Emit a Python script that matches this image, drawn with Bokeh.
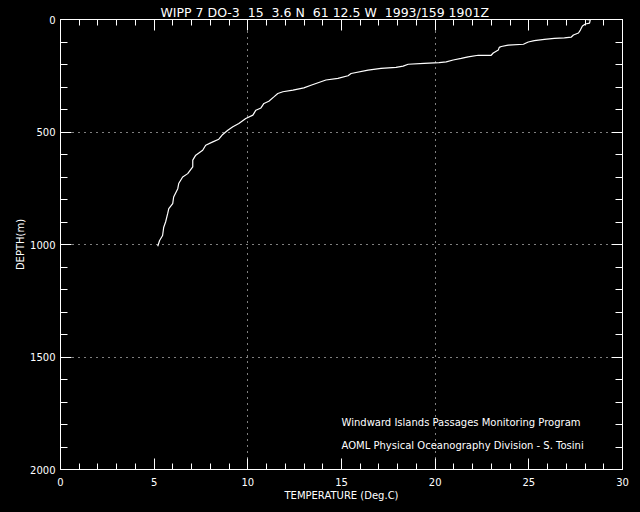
from bokeh.plotting import figure
from bokeh.models import (Range1d, LinearAxis, SingleIntervalTicker, FixedTicker, Label)
from bokeh.embed import file_html
from bokeh.resources import INLINE

# ---- data ----
NB = "\u00a0"
title_text = ("WIPP 7 DO-3" + NB + " 15" + NB + " 3.6 N" + NB + " 61 12.5 W"
              + NB + " 1993/159 1901Z")
credit_lines = ["Windward Islands Passages Monitoring Program",
                "AOML Physical Oceanography Division - S. Tosini"]
credit_depths = [1790, 1892]
credit_temp = 15.0

temperature = [28.05, 28.28, 28.24, 28.02, 27.86, 27.75, 27.65, 27.38, 27.27, 26.90,
               26.36, 25.83, 25.29, 24.97, 24.71, 23.90, 23.53, 23.42, 23.37, 23.10,
               22.99, 22.30, 21.76, 21.39, 20.96, 20.59, 20.21, 19.41, 18.56, 18.29,
               17.91, 17.11, 16.42, 15.51, 15.35, 14.81, 14.17, 13.37, 12.99, 12.41,
               11.87, 11.60, 11.39, 11.12, 10.86, 10.70, 10.43, 10.27, 9.89, 9.52,
               9.20, 8.93, 8.66, 8.45, 8.13, 7.75, 7.59, 7.22, 7.06, 7.06,
               6.79, 6.52, 6.31, 6.26, 6.04, 5.99, 5.78, 5.72, 5.61, 5.51,
               5.45, 5.29, 5.19]
depth = [0, 2, 16, 20, 29, 47, 60, 69, 78, 82,
         84, 88, 94, 100, 110, 114, 120, 124, 136, 149,
         159, 159, 166, 173, 180, 188, 192, 195, 199, 207,
         213, 217, 225, 240, 250, 262, 269, 292, 304, 314,
         321, 329, 344, 363, 373, 393, 403, 425, 440, 462,
         477, 492, 511, 532, 544, 559, 581, 603, 625, 655,
         685, 700, 729, 752, 789, 818, 841, 863, 900, 923,
         960, 982, 1008]

x_grid_vals = [10, 20]
y_grid_vals = [500, 1000, 1500]

FONT = "DejaVu Sans"

p = figure(width=640, height=512, output_backend="svg", toolbar_location=None,
           x_range=Range1d(0, 30), y_range=Range1d(2000, 0),
           min_border_left=60, min_border_right=18, min_border_top=19,
           min_border_bottom=43)
p.background_fill_color = "black"
p.border_fill_color = "black"
p.outline_line_color = "white"
p.outline_line_width = 1

p.title.text = title_text
p.title.align = "left"
p.title.offset = 100
p.title.text_color = "white"
p.title.text_font = FONT
p.title.text_font_size = "12.5px"
p.title.text_font_style = "normal"
p.title.standoff = 0

def style_axis(ax, labels=True):
    ax.axis_line_color = "white"
    ax.major_tick_line_color = "white"
    ax.minor_tick_line_color = "white"
    ax.major_tick_out = 0
    ax.minor_tick_out = 0
    ax.major_label_text_font = FONT
    ax.axis_label_text_font = FONT
    ax.axis_label_text_font_style = "normal"
    ax.axis_label_text_color = "white"
    if labels:
        ax.major_label_text_color = "white"
        ax.major_label_text_font_size = "10px"
        ax.axis_label_text_font_size = "10px"
    else:
        ax.major_label_text_color = None
        ax.major_label_text_font_size = "1px"
        ax.major_label_standoff = 0

xt = SingleIntervalTicker(interval=5, num_minor_ticks=5)
yt = SingleIntervalTicker(interval=500, num_minor_ticks=5)

xa = p.xaxis[0]
xa.ticker = xt
xa.axis_label = "TEMPERATURE (Deg.C)"
style_axis(xa)
xa.major_tick_in = 11
xa.minor_tick_in = 6
xa.major_label_standoff = 8
xa.axis_label_standoff = 1

ya = p.yaxis[0]
ya.ticker = yt
ya.axis_label = "DEPTH(m)"
style_axis(ya)
ya.major_tick_in = 11
ya.minor_tick_in = 7
ya.major_label_standoff = 5
ya.axis_label_standoff = 1

top = LinearAxis(ticker=SingleIntervalTicker(interval=5, num_minor_ticks=5))
style_axis(top, labels=False)
top.major_tick_in = 11
top.minor_tick_in = 6
p.add_layout(top, "above")

right = LinearAxis(ticker=SingleIntervalTicker(interval=500, num_minor_ticks=5))
style_axis(right, labels=False)
right.major_tick_in = 11
right.minor_tick_in = 7
p.add_layout(right, "right")

p.xgrid.ticker = FixedTicker(ticks=x_grid_vals)
p.ygrid.ticker = FixedTicker(ticks=y_grid_vals)
for g in (p.xgrid[0], p.ygrid[0]):
    g.grid_line_color = "white"
    g.grid_line_dash = "1 5"
    g.grid_line_width = 1
    g.grid_line_alpha = 1.0

p.line(temperature, depth, line_color="white", line_width=1.2)

for t, d in zip(credit_lines, credit_depths):
    p.add_layout(Label(x=credit_temp, y=d, text=t, text_color="white",
                       text_font=FONT, text_font_size="10px",
                       text_align="left", text_baseline="middle"))

html = file_html(p, INLINE)
html = html.replace("<head>", "<head><style>html,body{margin:0;padding:0;background:#000;overflow:hidden;}</style>", 1)
open("out.html", "w").write(html)
